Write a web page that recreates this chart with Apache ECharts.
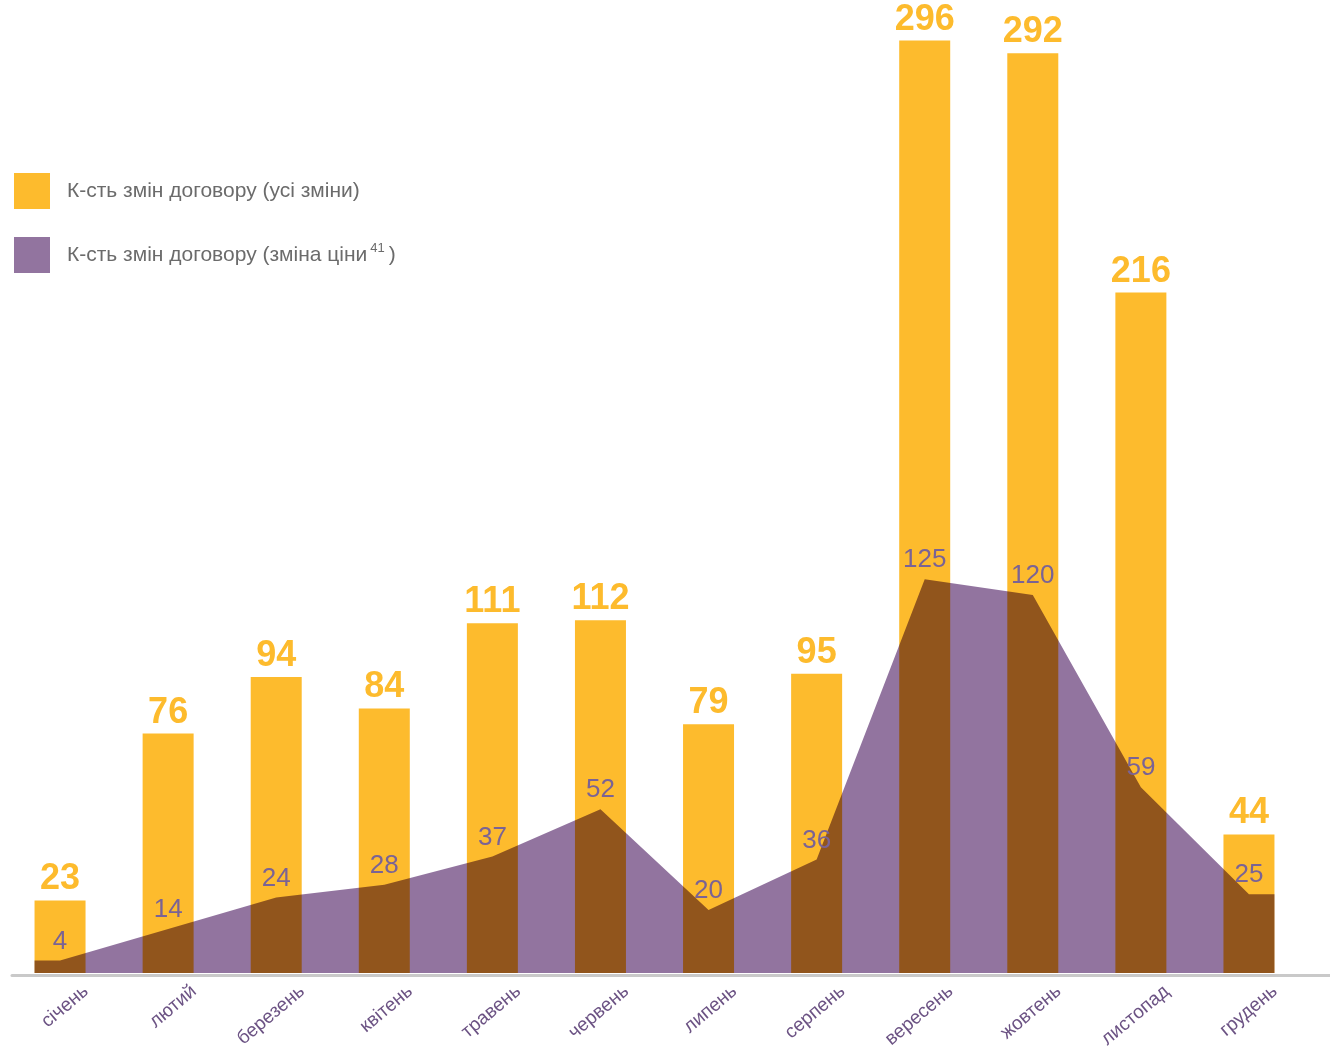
<!DOCTYPE html>
<html>
<head>
<meta charset="utf-8">
<script src="https://cdn.jsdelivr.net/npm/echarts@6/dist/echarts.min.js"></script>
<style>
html,body{margin:0;padding:0;background:#fff;}
#chart{width:1330px;height:1052px;}
</style>
</head>
<body>
<div id="chart"></div>
<script>
const categories = ['січень','лютий','березень','квітень','травень','червень','липень','серпень','вересень','жовтень','листопад','грудень'];
const allChanges = [23, 76, 94, 84, 111, 112, 79, 95, 296, 292, 216, 44];
const priceChanges = [4, 14, 24, 28, 37, 52, 20, 36, 125, 120, 59, 25];
const seriesNames = ['К-сть змін договору (усі зміни)', 'К-сть змін договору (зміна ціни)'];
const footnote = '41';

const YELLOW = '#FDBB2D';
const PURPLE = '#92749F';
const FONT = '"Liberation Sans", Arial, Helvetica, sans-serif';
const BAR_W = 51;

const chart = echarts.init(document.getElementById('chart'), null, {renderer: 'canvas'});
const n = priceChanges.length;

chart.setOption({
  backgroundColor: '#ffffff',
  animation: false,
  textStyle: {fontFamily: FONT},
  grid: [
    {left: 6, width: 1297, top: 28, bottom: 79, containLabel: false},
    {left: 12, right: 0, top: 28, bottom: 77, containLabel: false},
    {left: 32, width: 1297, top: 28, bottom: 79, containLabel: false}
  ],
  legend: {
    orient: 'vertical',
    left: 14,
    top: 173,
    padding: 0,
    itemWidth: 36,
    itemHeight: 36,
    itemGap: 28,
    selectedMode: false,
    data: [{name: seriesNames[0], icon: 'rect'}, {name: seriesNames[1], icon: 'rect'}],
    formatter: function (name) {
      if (name === seriesNames[1]) {
        return '{t|' + name.slice(0, -1) + '}{s|' + footnote + '}{t|)}';
      }
      return '{t|' + name + '}';
    },
    textStyle: {
      color: '#6b6b6b',
      fontFamily: FONT,
      fontSize: 21,
      padding: [0, 0, 0, 12],
      rich: {
        t: {fontSize: 21, color: '#6b6b6b', fontFamily: FONT, lineHeight: 26},
        s: {fontSize: 13, color: '#6b6b6b', fontFamily: FONT, verticalAlign: 'top', padding: [0, 4, 12, 3], lineHeight: 26}
      }
    }
  },
  xAxis: [
    {
      type: 'category',
      gridIndex: 0,
      data: categories,
      boundaryGap: true,
      axisLine: {show: false},
      axisTick: {show: false},
      axisLabel: {show: false}
    },
    {
      type: 'category',
      gridIndex: 1,
      data: [''],
      axisLine: {show: true, lineStyle: {color: '#c9c9c9', width: 3}},
      axisTick: {show: false},
      axisLabel: {show: false}
    },
    {
      type: 'category',
      gridIndex: 2,
      data: categories,
      boundaryGap: true,
      axisLine: {show: false},
      axisTick: {show: false},
      axisLabel: {
        rotate: 40,
        interval: 0,
        margin: 16,
        color: '#6c5384',
        fontSize: 19,
        fontFamily: FONT
      }
    }
  ],
  yAxis: [
    {type: 'value', gridIndex: 0, min: 0, max: 300, show: false},
    {type: 'value', gridIndex: 1, min: 0, max: 1, show: false},
    {type: 'value', gridIndex: 2, min: 0, max: 1, show: false}
  ],
  series: [
    {
      name: seriesNames[0],
      type: 'bar',
      xAxisIndex: 0,
      yAxisIndex: 0,
      data: allChanges,
      barWidth: BAR_W,
      itemStyle: {color: YELLOW},
      z: 2,
      silent: true,
      label: {
        show: true,
        position: 'top',
        distance: 3,
        color: YELLOW,
        fontSize: 36,
        fontWeight: 'bold',
        fontFamily: FONT
      }
    },
    {
      name: seriesNames[1],
      type: 'custom',
      xAxisIndex: 0,
      yAxisIndex: 0,
      data: priceChanges.map(function (v, i) { return [i, v]; }),
      itemStyle: {color: PURPLE},
      z: 3,
      silent: true,
      renderItem: function (params, api) {
        if (params.dataIndex !== 0) return null;
        const half = BAR_W / 2;
        const pts = [];
        for (let i = 0; i < n; i++) pts.push(api.coord([i, priceChanges[i]]));
        const b0 = api.coord([0, 0]);
        const bN = api.coord([n - 1, 0]);
        const poly = [[pts[0][0] - half, pts[0][1]]].concat(pts, [
          [pts[n - 1][0] + half, pts[n - 1][1]],
          [bN[0] + half, bN[1]],
          [b0[0] - half, b0[1]]
        ]);
        return {
          type: 'polygon',
          name: 'priceArea',
          shape: {points: poly},
          style: {fill: PURPLE, blend: 'multiply'},
          silent: true
        };
      }
    },
    {
      name: 'labels',
      type: 'line',
      xAxisIndex: 0,
      yAxisIndex: 0,
      data: priceChanges,
      symbol: 'circle',
      symbolSize: 0,
      lineStyle: {opacity: 0},
      z: 5,
      silent: true,
      label: {
        show: true,
        position: 'top',
        distance: 6,
        color: '#7a6395',
        fontSize: 26,
        fontFamily: FONT
      }
    }
  ]
});

// apply multiply blending to the area so it darkens the bars where they overlap
(function () {
  const zr = chart.getZr();
  const list = zr.storage.getDisplayList(true);
  list.forEach(function (el) {
    if (el.type === 'polygon' && el.style && el.style.fill === PURPLE) {
      el.style.blend = 'multiply';
      el.markRedraw ? el.markRedraw() : el.dirty();
    }
  });
  zr.refreshImmediately();
})();
</script>
</body>
</html>
